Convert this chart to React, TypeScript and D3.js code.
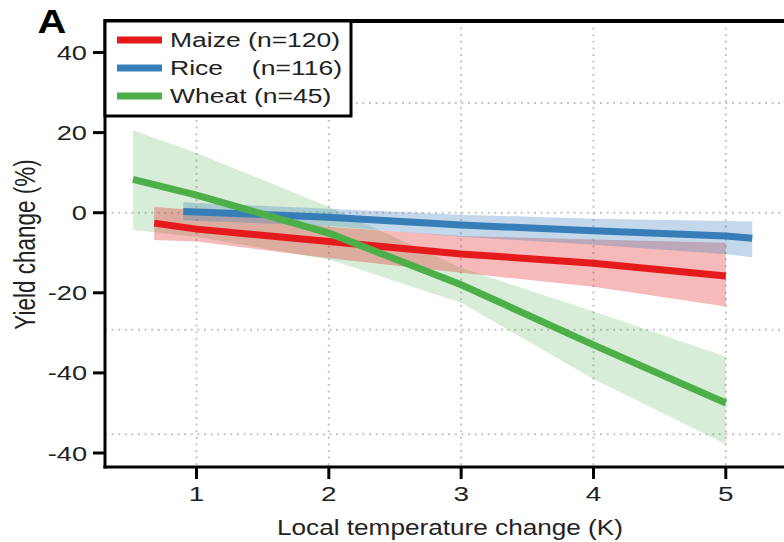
import * as d3 from "d3";

const width = 784;
const height = 542;
const plotLeft = 105;
const plotTop = 21;
const plotBottom = 467;
const SX = 1.36; // the source image is stretched horizontally

// tick values and labels
const xTicks = [1, 2, 3, 4, 5];
const yTicks = [40, 20, 0, -20, -40, -60];
const yTickLabels = ["40", "20", "0", "-20", "-40", "-40"];
const gridY = [27.4, 0, -29.2, -55.3];

// fitted lines and confidence bands
const maizeX = [0.68, 1, 2, 3, 4, 5];
const maizeY = [-2.6, -4.1, -7.2, -10.3, -12.6, -15.8];
const maizeLo = [-6.8, -7.2, -11.4, -15, -18.5, -23.4];
const maizeHi = [1.4, 0.7, -3.5, -5.8, -6.7, -7.5];

const riceX = [0.9, 1, 2, 3, 4, 5, 5.2];
const riceY = [0.3, 0.2, -1.15, -3.1, -4.5, -5.8, -6.4];
const riceLo = [-1.9, -2, -3.3, -6, -8, -10.4, -11.1];
const riceHi = [2.6, 2.4, 1, -0.5, -1.5, -2.1, -2.2];

const wheatX = [0.52, 1, 2, 3, 4, 5];
const wheatY = [8.3, 4.4, -5.1, -18, -33, -47.5];
const wheatLo = [-4.3, -6, -11.7, -22.5, -41.5, -57.8];
const wheatHi = [20.6, 14.9, 1.5, -13.8, -24.7, -35.9];

const series = [
  { name: "Maize", n: "(n=120)", color: "#e41a1c", bandOpacity: 0.3, xs: maizeX, ys: maizeY, lo: maizeLo, hi: maizeHi },
  { name: "Rice", n: "(n=116)", color: "#377eb8", bandOpacity: 0.3, xs: riceX, ys: riceY, lo: riceLo, hi: riceHi },
  { name: "Wheat", n: "(n=45)", color: "#4daf4a", bandOpacity: 0.22, xs: wheatX, ys: wheatY, lo: wheatLo, hi: wheatHi },
];
const bandOrder = [2, 0, 1];
const lineOrder = [0, 1, 2];

const x = d3.scaleLinear([1, 5], [196.5, 725.8]);
const y = d3.scaleLinear([0, 40], [212.7, 52.5]);

const font = "'Liberation Sans', Arial, Helvetica, sans-serif";

const App = () => {
  const line = (s: any) =>
    d3.line<number>((d, i) => x(s.xs[i]), (d) => y(d))(s.ys) as string;
  const band = (s: any) =>
    d3
      .area<number>()
      .x((d, i) => x(s.xs[i]))
      .y0((d, i) => y(s.lo[i]))
      .y1((d) => y(d))(s.hi) as string;

  return (
    <svg
      width={width}
      height={height}
      style={{ position: "absolute", left: 0, top: 0, background: "#fff" }}
      fontFamily={font}
    >
      <defs>
        <clipPath id="plot">
          <rect x={plotLeft} y={plotTop} width={width - plotLeft} height={plotBottom - plotTop} />
        </clipPath>
      </defs>

      {/* grid */}
      <g stroke="#c4c4c4" strokeWidth={2} strokeDasharray="2,4.6">
        {xTicks.map((t) => (
          <line key={"gx" + t} x1={x(t)} x2={x(t)} y1={plotTop} y2={plotBottom} />
        ))}
        {gridY.map((t) => (
          <line key={"gy" + t} x1={plotLeft} x2={width} y1={y(t)} y2={y(t)} />
        ))}
      </g>

      <g clipPath="url(#plot)">
        {bandOrder.map((i) => (
          <path key={"b" + i} d={band(series[i])} fill={series[i].color} fillOpacity={series[i].bandOpacity} />
        ))}
        {lineOrder.map((i) => (
          <path key={"l" + i} d={line(series[i])} fill="none" stroke={series[i].color} strokeWidth={7} />
        ))}
      </g>

      {/* frame */}
      <g stroke="#000" fill="none">
        <line x1={plotLeft} x2={width} y1={plotTop} y2={plotTop} strokeWidth={4} />
        <line x1={plotLeft} x2={plotLeft} y1={plotTop - 2} y2={plotBottom + 1.5} strokeWidth={3} />
        <line x1={plotLeft - 1.5} x2={width} y1={plotBottom} y2={plotBottom} strokeWidth={3} />
      </g>

      {/* y axis */}
      {yTicks.map((t, i) => (
        <g key={"yt" + i}>
          <line x1={93} x2={plotLeft} y1={y(t)} y2={y(t)} stroke="#000" strokeWidth={3} />
          <text
            transform={`translate(87,${y(t) + 7.5}) scale(${SX},1)`}
            textAnchor="end"
            fontSize={20}
            fill="#222"
          >
            {yTickLabels[i]}
          </text>
        </g>
      ))}

      {/* x axis */}
      {xTicks.map((t) => (
        <g key={"xt" + t}>
          <line x1={x(t)} x2={x(t)} y1={plotBottom} y2={479} stroke="#000" strokeWidth={3} />
          <text
            transform={`translate(${x(t)},501) scale(${SX},1)`}
            textAnchor="middle"
            fontSize={20.5}
            fill="#222"
          >
            {t}
          </text>
        </g>
      ))}

      <text x={450} y={535} textAnchor="middle" fontSize={22} fill="#222" textLength={346} lengthAdjust="spacingAndGlyphs">
        Local temperature change (K)
      </text>
      <text
        transform={`translate(35,244.5) scale(1.3,1) rotate(-90)`}
        textAnchor="middle"
        fontSize={22.5}
        fill="#222"
      >
        Yield change (%)
      </text>

      <text transform={`translate(37.5,32.7) scale(1.23,1)`} fontSize={32.5} fontWeight="bold" fill="#000">
        A
      </text>

      {/* legend */}
      <rect x={plotLeft} y={plotTop} width={246} height={95} fill="#fff" stroke="#000" strokeWidth={3} />
      {series.map((s, i) => {
        const cy = 40 + i * 28;
        return (
          <g key={"lg" + i}>
            <line x1={117} x2={162} y1={cy} y2={cy} stroke={s.color} strokeWidth={7} />
            <text transform={`translate(170,${cy + 6.8}) scale(${SX},1)`} fontSize={19.5} fill="#222">
              {s.name === "Rice" ? s.name : `${s.name} ${s.n}`}
            </text>
            {s.name === "Rice" && (
              <text transform={`translate(342,${cy + 6.8}) scale(${SX},1)`} textAnchor="end" fontSize={19.5} fill="#222">
                {s.n}
              </text>
            )}
          </g>
        );
      })}
    </svg>
  );
};

export default App;
